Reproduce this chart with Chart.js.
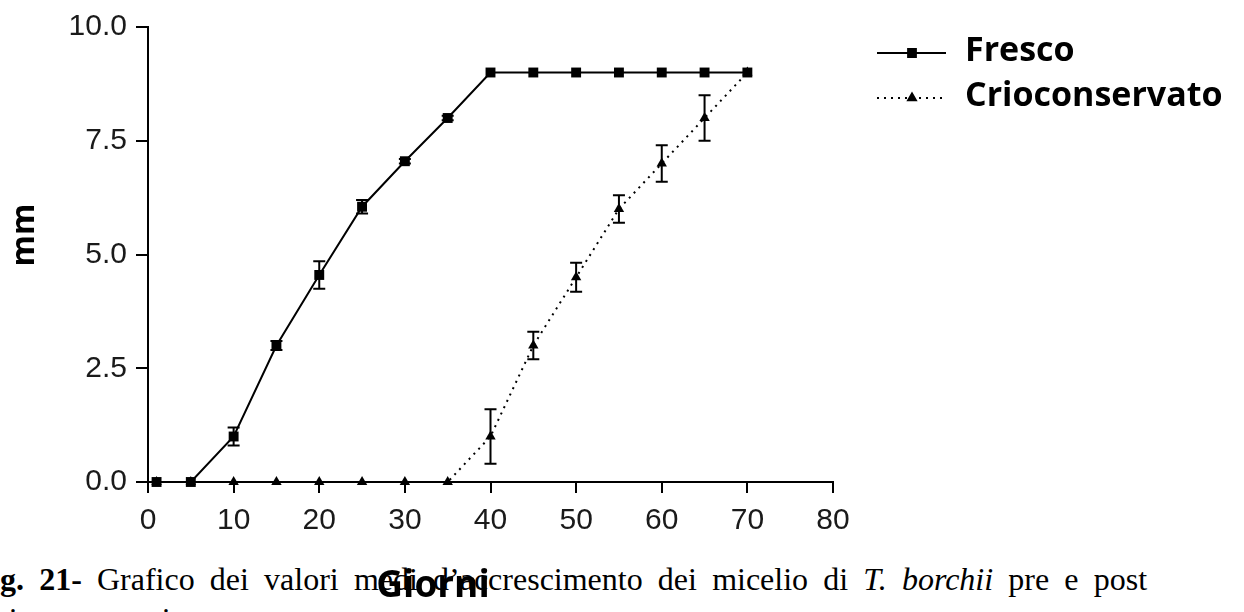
<!DOCTYPE html>
<html>
<head>
<meta charset="utf-8">
<script src="https://cdn.jsdelivr.net/npm/chart.js@4.4.0/dist/chart.umd.min.js"></script>
<style>
  html, body { margin: 0; padding: 0; background: #fff; overflow: hidden; }
  #wrap { position: relative; width: 1244px; height: 612px; overflow: hidden; }
  #chart { position: absolute; left: 0; top: 0; }
  .caption {
    position: absolute; left: 0; width: 1147px;
    font-family: "Liberation Serif", "Times New Roman", serif;
    font-size: 32px; line-height: 40px; color: #000; white-space: nowrap;
  }
  #cap1 { top: 559px; text-align: justify; text-align-last: justify; }
  #cap2 { top: 599px; left: -16px; }
</style>
</head>
<body>
<div id="wrap">
  <div class="caption" id="cap1"><b>g. 21-</b> Grafico dei valori medi d’accrescimento dei micelio di <i>T. borchii</i> pre e post</div>
  <div class="caption" id="cap2">crioconservazione.</div>
  <canvas id="chart" width="1244" height="612"></canvas>
</div>
<script>
// Days of observation and mean mycelium growth (mm)
const days = [1, 5, 10, 15, 20, 25, 30, 35, 40, 45, 50, 55, 60, 65, 70];
const frescoMm = [0, 0, 1.0, 3.0, 4.55, 6.05, 7.05, 8.0, 9.0, 9.0, 9.0, 9.0, 9.0, 9.0, 9.0];
const frescoErr = [0, 0, 0.2, 0.1, 0.3, 0.15, 0.05, 0.05, 0, 0, 0, 0, 0, 0, 0];
const crioMm = [0, 0, 0, 0, 0, 0, 0, 0, 1.0, 3.0, 4.5, 6.0, 7.0, 8.0, 9.0];
const crioErr = [0, 0, 0, 0, 0, 0, 0, 0, 0.6, 0.3, 0.32, 0.3, 0.4, 0.5, 0];

const xTicks = [0, 10, 20, 30, 40, 50, 60, 70, 80];
const yTicks = [0, 2.5, 5, 7.5, 10];

const tickFont = { family: '"Liberation Sans", Arial, sans-serif', size: 30 };
const boldFont = '"Open Sans", "DejaVu Sans", sans-serif';

// Vertical error bars with caps
const errorBars = {
    id: 'errorBars',
    afterDatasetsDraw(chart) {
        const ctx = chart.ctx;
        const xs = chart.scales.x, ys = chart.scales.y;
        ctx.save();
        ctx.strokeStyle = '#000';
        ctx.lineWidth = 2;
        chart.data.datasets.forEach(ds => {
            ds.data.forEach((p, i) => {
                const e = ds.errors[i];
                if (!e) return;
                const x = xs.getPixelForValue(p.x);
                const y1 = ys.getPixelForValue(p.y + e);
                const y2 = ys.getPixelForValue(p.y - e);
                ctx.beginPath();
                ctx.moveTo(x, y1); ctx.lineTo(x, y2);
                ctx.moveTo(x - 6, y1); ctx.lineTo(x + 6, y1);
                ctx.moveTo(x - 6, y2); ctx.lineTo(x + 6, y2);
                ctx.stroke();
            });
        });
        ctx.restore();
    }
};

// Axis titles and legend on the right
const decorations = {
    id: 'decorations',
    afterDraw(chart) {
        const ctx = chart.ctx;
        const area = chart.chartArea;
        ctx.save();
        ctx.fillStyle = '#000';
        ctx.textBaseline = 'middle';

        // y title
        ctx.save();
        ctx.translate(area.left - 123, area.top + 208);
        ctx.rotate(-Math.PI / 2);
        ctx.textAlign = 'center';
        ctx.font = 'bold 32px ' + boldFont;
        ctx.fillText('mm', 0, 0);
        ctx.restore();

        // x title
        ctx.textAlign = 'center';
        ctx.font = 'bold 37px ' + boldFont;
        ctx.fillText('Giorni', 433, 586);

        // legend
        const lx = area.right + 44;
        chart.data.datasets.forEach((ds, i) => {
            const y = 53 + i * 45;
            ctx.save();
            ctx.strokeStyle = '#000';
            ctx.lineWidth = 2;
            ctx.setLineDash(ds.borderDash || []);
            ctx.beginPath();
            ctx.moveTo(lx, y);
            ctx.lineTo(lx + 69, y);
            ctx.stroke();
            ctx.setLineDash([]);
            Chart.helpers.drawPoint(ctx, {
                pointStyle: ds.pointStyle, radius: ds.pointRadius - 1.5,
                borderWidth: 1, rotation: 0
            }, lx + 35, y);
            ctx.fill();
            ctx.restore();
            ctx.textAlign = 'left';
            ctx.font = 'bold 34px ' + boldFont;
            ctx.fillText(ds.label, lx + 88, y - 2);
        });
        ctx.restore();
    }
};

new Chart(document.getElementById('chart'), {
    type: 'line',
    data: {
        datasets: [
            {
                label: 'Fresco',
                data: days.map((d, i) => ({ x: d, y: frescoMm[i] })),
                errors: frescoErr,
                borderColor: '#000',
                backgroundColor: '#000',
                borderWidth: 2,
                pointStyle: 'rect',
                pointRadius: 7,
                pointBorderWidth: 0,
                tension: 0,
                clip: false
            },
            {
                label: 'Crioconservato',
                data: days.map((d, i) => ({ x: d, y: crioMm[i] })),
                errors: crioErr,
                borderColor: '#000',
                backgroundColor: '#000',
                borderWidth: 2,
                borderDash: [2, 5],
                pointStyle: 'triangle',
                pointRadius: 6,
                pointBorderWidth: 0,
                tension: 0,
                clip: false
            }
        ]
    },
    options: {
        responsive: false,
        animation: false,
        layout: { padding: { left: 0, right: 411, top: 24, bottom: 0 } },
        plugins: {
            legend: { display: false },
            tooltip: { enabled: false }
        },
        scales: {
            x: {
                type: 'linear',
                min: 0,
                max: 80,
                afterBuildTicks: scale => { scale.ticks = xTicks.map(v => ({ value: v })); },
                afterFit: scale => { scale.height = 130; },
                ticks: { font: tickFont, color: '#1a1a1a', padding: 10, maxRotation: 0 },
                grid: { drawOnChartArea: false, drawTicks: true, tickLength: 11, color: '#000', lineWidth: 2 },
                border: { display: true, color: '#000', width: 2 }
            },
            y: {
                min: 0,
                max: 10,
                afterBuildTicks: scale => { scale.ticks = yTicks.map(v => ({ value: v })); },
                afterFit: scale => { scale.width = 148; },
                ticks: {
                    font: tickFont, color: '#1a1a1a', padding: 9,
                    callback: value => value.toFixed(1)
                },
                grid: { drawOnChartArea: false, drawTicks: true, tickLength: 12, color: '#000', lineWidth: 2 },
                border: { display: true, color: '#000', width: 2 }
            }
        }
    },
    plugins: [errorBars, decorations]
});
</script>
</body>
</html>
